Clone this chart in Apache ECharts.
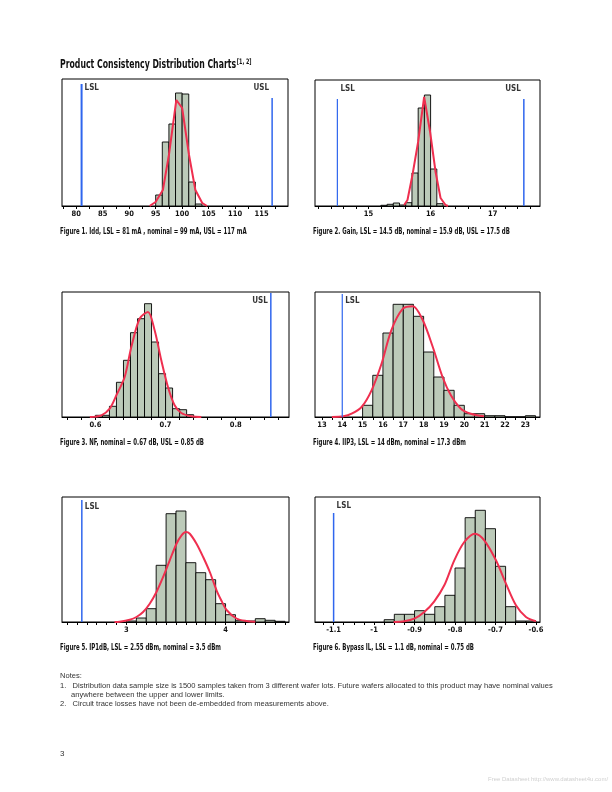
<!DOCTYPE html>
<html><head><meta charset="utf-8">
<script src="https://cdn.jsdelivr.net/npm/echarts@6/dist/echarts.min.js"></script>
<style>html,body{margin:0;padding:0;background:#fff}#c{width:612px;height:792px}</style>
</head><body><div id="c"></div>
<script>
// ---------- DATA ----------
// Figure 1: Idd (mA)
const f1BinStart = [95, 96.25, 97.5, 98.75, 100, 101.25, 102.5];
const f1BinWidth = 1.25;
const f1Freq = [11, 64, 82, 113, 112, 24, 2];
const f1CurveX = [93.85, 94.98, 96.36, 97.5, 98.9, 100.0, 101.3, 102.5, 103.8, 104.7];
const f1CurveY = [0, 4, 16, 51, 106, 98, 51, 16, 3, 0];
const f1Ticks = [77.5, 80, 82.5, 85, 87.5, 90, 92.5, 95, 97.5, 100, 102.5, 105, 107.5, 110, 112.5, 115, 117.5];
const f1Labels = [80, 85, 90, 95, 100, 105, 110, 115];
const f1LSL = 81, f1USL = 117;

// Figure 2: Gain (dB)
const f2BinStart = [15.2, 15.3, 15.4, 15.5, 15.6, 15.7, 15.8, 15.9, 16.0, 16.1];
const f2BinWidth = 0.1;
const f2Freq = [0.7, 1.7, 3, 1, 3.3, 33, 98, 111, 37, 2.3];
const f2CurveX = [15.574, 15.628, 15.708, 15.799, 15.896, 15.992, 16.08, 16.16, 16.24, 16.28];
const f2CurveY = [1, 6, 31, 64, 109, 74, 34, 8, 1, 0];
const f2Ticks = [14.2, 14.4, 14.6, 14.8, 15, 15.2, 15.4, 15.6, 15.8, 16, 16.2, 16.4, 16.6, 16.8, 17, 17.2, 17.4, 17.6];
const f2Labels = [15, 16, 17];
const f2LSL = 14.5, f2USL = 17.5;

// Figure 3: NF (dB)
const f3BinStart = [0.60, 0.61, 0.62, 0.63, 0.64, 0.65, 0.66, 0.67, 0.68, 0.69, 0.70, 0.71, 0.72, 0.73];
const f3BinWidth = 0.01;
const f3Freq = [1.7, 1.7, 10.7, 34.7, 56.7, 84.3, 98.3, 113.3, 75, 43.3, 29, 8.3, 7.3, 2.3];
const f3CurveX = [0.5921, 0.6085, 0.6204, 0.6299, 0.6417, 0.6512, 0.663, 0.6749, 0.6844, 0.6939, 0.7034, 0.7129, 0.7224, 0.7366, 0.7509];
const f3CurveY = [0, 1.7, 8.3, 21.7, 40, 70, 98.3, 105, 86.7, 56.7, 30, 11.7, 4, 0.7, 0];
const f3Ticks = [0.56, 0.58, 0.60, 0.62, 0.64, 0.66, 0.68, 0.70, 0.72, 0.74, 0.76, 0.78, 0.80, 0.82, 0.84, 0.86];
const f3Labels = [0.6, 0.7, 0.8];
const f3USL = 0.85;

// Figure 4: IIP3 (dBm)
const f4BinStart = [15, 15.5, 16, 16.5, 17, 17.5, 18, 18.5, 19, 19.5, 20, 20.5, 21, 21.5, 22, 22.5, 23];
const f4BinWidth = 0.5;
const f4Freq = [11.7, 41.7, 84, 112.7, 112.7, 100.7, 65, 40, 26.7, 11.7, 3.3, 3.3, 1.3, 1.3, 0, 0, 1.3];
const f4CurveX = [13.49, 14.06, 14.46, 14.95, 15.44, 15.93, 16.41, 16.98, 17.47, 17.96, 18.45, 18.93, 19.34, 19.83, 20.32, 20.97];
const f4CurveY = [0, 0.7, 3.3, 10, 26.7, 53.3, 86.7, 108.3, 110.7, 96.7, 70, 40, 21.7, 8.3, 3.3, 0.7];
const f4Ticks = [13, 13.5, 14, 14.5, 15, 15.5, 16, 16.5, 17, 17.5, 18, 18.5, 19, 19.5, 20, 20.5, 21, 21.5, 22, 22.5, 23, 23.5];
const f4Labels = [13, 14, 15, 16, 17, 18, 19, 20, 21, 22, 23];
const f4LSL = 14;

// Figure 5: IP1dB (dBm)
const f5BinStart = [3.0, 3.1, 3.2, 3.3, 3.4, 3.5, 3.6, 3.7, 3.8, 3.9, 4.0, 4.1, 4.2, 4.3, 4.4, 4.5];
const f5BinWidth = 0.1;
const f5Freq = [1, 4, 13.3, 56.7, 108.3, 111, 59.3, 49.3, 42.3, 18.3, 7.3, 1.3, 1, 3.3, 1.7, 0.7];
const f5CurveX = [2.88, 2.932, 3.033, 3.101, 3.168, 3.235, 3.303, 3.370, 3.437, 3.505, 3.556, 3.599, 3.639, 3.707, 3.774, 3.841, 3.909, 3.96, 4.01, 4.11, 4.21, 4.3];
const f5CurveY = [0, 0.3, 2.3, 5, 10, 18.3, 30, 45, 61.7, 78.3, 86.7, 90, 88.3, 78.3, 65, 50, 31.7, 21, 12, 3.5, 1, 0.3];
const f5Ticks = [2.4, 2.5, 2.6, 2.7, 2.8, 2.9, 3.0, 3.1, 3.2, 3.3, 3.4, 3.5, 3.6, 3.7, 3.8, 3.9, 4.0, 4.1, 4.2, 4.3, 4.4, 4.5, 4.6];
const f5Labels = [3, 4];
const f5LSL = 2.55;

// Figure 6: Bypass IL (dB)
const f6BinStart = [-0.975, -0.95, -0.925, -0.9, -0.875, -0.85, -0.825, -0.8, -0.775, -0.75, -0.725, -0.7, -0.675, -0.65, -0.625];
const f6BinWidth = 0.025;
const f6Freq = [2.3, 7.7, 7.7, 11.3, 7.7, 15.3, 26.7, 54, 104.3, 111.7, 93.3, 55.7, 15.3, 1, 1];
const f6CurveX = [-0.9517, -0.9254, -0.9007, -0.876, -0.8512, -0.8265, -0.8018, -0.7771, -0.7507, -0.7277, -0.6988, -0.6741, -0.6494, -0.6247, -0.6];
const f6CurveY = [0, 0.7, 3.3, 10, 20.7, 36.7, 61.7, 80, 88.3, 81.7, 61.7, 38.3, 16.7, 5, 0.7];
const f6Ticks = [-1.125, -1.1, -1.075, -1.05, -1.025, -1, -0.975, -0.95, -0.925, -0.9, -0.875, -0.85, -0.825, -0.8, -0.775, -0.75, -0.725, -0.7, -0.675, -0.65, -0.625, -0.6];
const f6Labels = [-1.1, -1, -0.9, -0.8, -0.7, -0.6];
const f6LSL = -1.1;

// Texts
const titleText = 'Product Consistency Distribution Charts';
const titleSup = '[1, 2]';
const captions = [
  'Figure 1. Idd, LSL = 81 mA , nominal = 99 mA, USL = 117 mA',
  'Figure 2. Gain, LSL = 14.5 dB, nominal = 15.9 dB, USL = 17.5 dB',
  'Figure 3. NF, nominal = 0.67 dB, USL = 0.85 dB',
  'Figure 4. IIP3, LSL = 14 dBm, nominal = 17.3 dBm',
  'Figure 5. IP1dB, LSL = 2.55 dBm, nominal = 3.5 dBm',
  'Figure 6. Bypass IL, LSL = 1.1 dB, nominal = 0.75 dB'
];
const notes = [
  'Notes:',
  '1.   Distribution data sample size is 1500 samples taken from 3 different wafer lots. Future wafers allocated to this product may have nominal values',
  'anywhere between the upper and lower limits.',
  '2.   Circuit trace losses have not been de-embedded from measurements above.'
];

// ---------- LAYOUT / STYLE ----------
const FONT = '"Liberation Sans Narrow", "DejaVu Sans Condensed", "Liberation Sans", sans-serif';
const BAR_FILL = '#bccab9';
const RED = '#ef2f4f';
const BLUE = '#2f66ee';

const panels = [
  {grid:{left:62, top:79, width:226, height:127}, min:77.3, max:120, bins:f1BinStart, bw:f1BinWidth, freq:f1Freq, cx:f1CurveX, cy:f1CurveY, ticks:f1Ticks, labels:f1Labels, smooth:false,
   limits:[{v:f1LSL, name:'LSL', top:122, lab:118, side:'right', w:2}, {v:f1USL, name:'USL', top:108, lab:118, side:'left', w:1.5}]},
  {grid:{left:315, top:80, width:225, height:126}, min:14.14, max:17.76, bins:f2BinStart, bw:f2BinWidth, freq:f2Freq, cx:f2CurveX, cy:f2CurveY, ticks:f2Ticks, labels:f2Labels, smooth:false,
   limits:[{v:f2LSL, name:'LSL', top:107, lab:117, side:'right', w:1.2}, {v:f2USL, name:'USL', top:107, lab:117, side:'left', w:1.5}]},
  {grid:{left:62, top:292, width:227, height:125}, min:0.5524, max:0.8759, bins:f3BinStart, bw:f3BinWidth, freq:f3Freq, cx:f3CurveX, cy:f3CurveY, ticks:f3Ticks, labels:f3Labels, smooth:0.3,
   limits:[{v:f3USL, name:'USL', top:124, lab:116, side:'left', w:1.5}]},
  {grid:{left:315, top:292, width:225, height:125}, min:12.66, max:23.72, bins:f4BinStart, bw:f4BinWidth, freq:f4Freq, cx:f4CurveX, cy:f4CurveY, ticks:f4Ticks, labels:f4Labels, smooth:0.3,
   limits:[{v:f4LSL, name:'LSL', top:123, lab:116, side:'right', w:1.2}]},
  {grid:{left:62, top:497, width:227, height:125}, min:2.35, max:4.64, bins:f5BinStart, bw:f5BinWidth, freq:f5Freq, cx:f5CurveX, cy:f5CurveY, ticks:f5Ticks, labels:f5Labels, smooth:0.3,
   limits:[{v:f5LSL, name:'LSL', top:122, lab:115, side:'right', w:1.5}]},
  {grid:{left:315, top:497, width:225, height:125}, min:-1.146, max:-0.59, bins:f6BinStart, bw:f6BinWidth, freq:f6Freq, cx:f6CurveX, cy:f6CurveY, ticks:f6Ticks, labels:f6Labels, smooth:0.3,
   limits:[{v:f6LSL, name:'LSL', top:109, lab:116, side:'right', w:1.5}]}
];

const grids = [], xAxes = [], yAxes = [], series = [];
panels.forEach((p, i) => {
  grids.push(Object.assign({show:true, borderColor:'#000', borderWidth:1, containLabel:false}, p.grid));
  xAxes.push({type:'value', gridIndex:i, min:p.min, max:p.max,
    axisLine:{show:true, onZero:false, lineStyle:{color:'#000', width:1}},
    splitLine:{show:false},
    axisTick:{show:true, customValues:p.ticks, length:3, lineStyle:{color:'#000', width:1}},
    axisLabel:{show:true, customValues:p.labels, margin:4, fontFamily:FONT, fontWeight:'bold', fontSize:7.5, color:'#111'}
  });
  yAxes.push({type:'value', gridIndex:i, min:0, max:p.grid.height, show:false});
  series.push({type:'custom', xAxisIndex:i, yAxisIndex:i, clip:true, silent:true,
    data:p.bins.map((b, k) => [b, b + p.bw, p.freq[k]]),
    encode:{x:[0,1], y:2},
    renderItem:function(params, api){
      const a = api.coord([api.value(0), 0]);
      const b = api.coord([api.value(1), api.value(2)]);
      return {type:'rect', shape:{x:a[0], y:b[1], width:b[0]-a[0], height:a[1]-b[1]},
        style:{fill:BAR_FILL, stroke:'#000', lineWidth:0.9}};
    }, z:2});
  series.push({type:'line', xAxisIndex:i, yAxisIndex:i, silent:true, symbol:'none', smooth:p.smooth,
    data:p.cx.map((x, k) => [x, p.cy[k]]), lineStyle:{color:RED, width:2}, z:4});
  p.limits.forEach(l => {
    series.push({type:'line', xAxisIndex:i, yAxisIndex:i, silent:true, symbol:'none',
      data:[[l.v, 0], [l.v, l.top]], lineStyle:{color:BLUE, width:l.w}, z:5});
    series.push({type:'scatter', xAxisIndex:i, yAxisIndex:i, silent:true, symbolSize:0,
      data:[[l.v, l.lab]], z:6,
      label:{show:true, formatter:l.name, position:l.side, distance:3, fontFamily:FONT, fontWeight:'bold', fontSize:8, color:'#000'}});
  });
});

const capPos = [[60,232],[313,232],[60,443],[313,443],[60,648],[313,648]];
const graphics = [];
graphics.push({type:'text', x:60, y:58, scaleX:0.72, style:{
  text:'{t|' + titleText + '}{s|' + titleSup + '}',
  rich:{t:{fontFamily:FONT, fontWeight:'bold', fontSize:12, fill:'#111'},
        s:{fontFamily:FONT, fontWeight:'bold', fontSize:7.5, fill:'#111', verticalAlign:'top', padding:[0,0,6,1]}}}});
captions.forEach((c, k) => {
  graphics.push({type:'text', x:capPos[k][0], y:capPos[k][1], scaleX:0.67, style:{text:c, fontFamily:FONT, fontWeight:'bold', fontSize:9, fill:'#111', textVerticalAlign:'middle'}});
});
const noteY = [676, 686, 695, 704];
const noteX = [60, 60, 71, 60];
notes.forEach((n, k) => {
  graphics.push({type:'text', x:noteX[k], y:noteY[k], style:{text:n, fontFamily:'"Liberation Sans", sans-serif', fontSize:7.55, fill:'#333', textVerticalAlign:'middle'}});
});
graphics.push({type:'text', x:60, y:754, style:{text:'3', fontFamily:'"Liberation Sans", sans-serif', fontSize:8, fill:'#333', textVerticalAlign:'middle'}});
graphics.push({type:'text', x:488, y:779, style:{text:'Free Datasheet http://www.datasheet4u.com/', fontFamily:'"Liberation Sans", sans-serif', fontSize:6, fill:'#d0d0d0', textVerticalAlign:'middle'}});

const chart = echarts.init(document.getElementById('c'), null, {renderer:'canvas', width:612, height:792});
chart.setOption({backgroundColor:'#fff', animation:false, grid:grids, xAxis:xAxes, yAxis:yAxes, series:series, graphic:graphics});
</script></body></html>
